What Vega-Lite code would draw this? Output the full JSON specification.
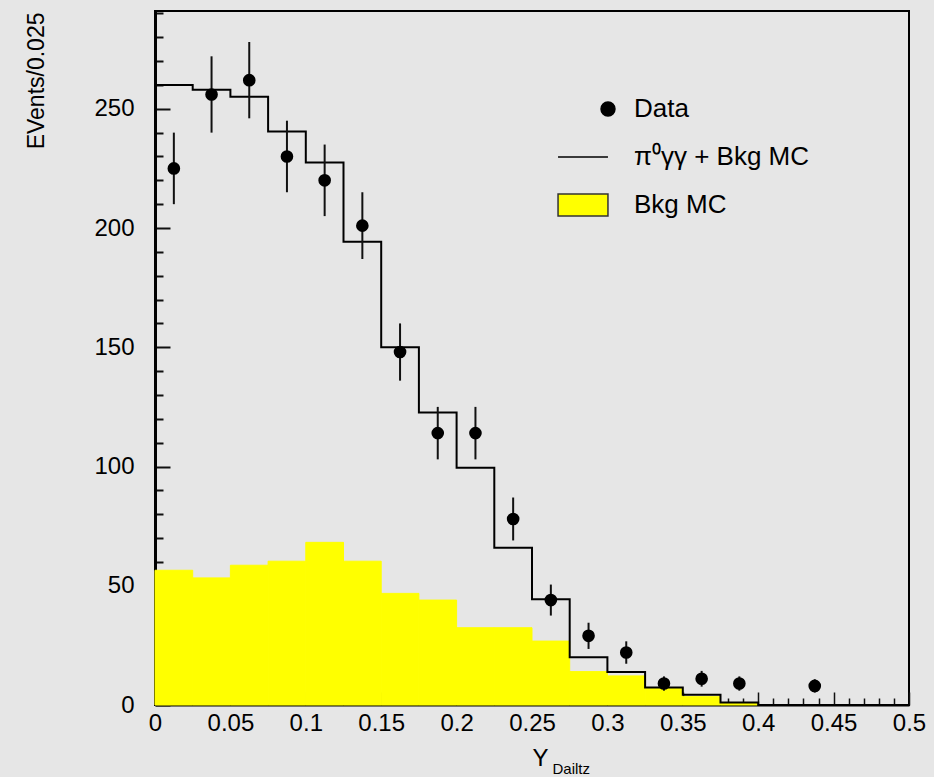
{
  "$schema": "https://vega.github.io/schema/vega-lite/v6.json",
  "autosize": {"type": "none"},
  "width": 754,
  "height": 694,
  "padding": {"left": 155, "top": 11, "right": 25, "bottom": 72},
  "background": "#e6e6e6",
  "config": {
    "view": {"stroke": "#000000", "strokeWidth": 2, "fill": "#e6e6e6"},
    "font": "Liberation Sans",
    "axis": {
      "zindex": 1, "grid": false,
      "labelFont": "Liberation Sans", "titleFont": "Liberation Sans",
      "labelColor": "#000000", "titleColor": "#000000",
      "domainColor": "#000000", "tickColor": "#111111",
      "labelOverlap": false, "labelBound": false, "labelFlush": false,
      "titleFontWeight": "normal"
    }
  },
  "datasets": {
    "hist": [
      {"x0": 0.0, "x1": 0.025, "xc": 0.0125, "total": 260, "bkg": 56.5, "data": 225, "lo": 210, "hi": 240},
      {"x0": 0.025, "x1": 0.05, "xc": 0.0375, "total": 258, "bkg": 53.3, "data": 256, "lo": 240, "hi": 272},
      {"x0": 0.05, "x1": 0.075, "xc": 0.0625, "total": 255, "bkg": 58.6, "data": 262, "lo": 246, "hi": 278},
      {"x0": 0.075, "x1": 0.1, "xc": 0.0875, "total": 240.5, "bkg": 60.3, "data": 230, "lo": 215, "hi": 245},
      {"x0": 0.1, "x1": 0.125, "xc": 0.1125, "total": 227.5, "bkg": 68.2, "data": 220, "lo": 205, "hi": 235},
      {"x0": 0.125, "x1": 0.15, "xc": 0.1375, "total": 194.2, "bkg": 60.3, "data": 201, "lo": 187, "hi": 215},
      {"x0": 0.15, "x1": 0.175, "xc": 0.1625, "total": 150, "bkg": 46.8, "data": 148, "lo": 136, "hi": 160},
      {"x0": 0.175, "x1": 0.2, "xc": 0.1875, "total": 122.7, "bkg": 44, "data": 114, "lo": 103, "hi": 125},
      {"x0": 0.2, "x1": 0.225, "xc": 0.2125, "total": 99.5, "bkg": 32.4, "data": 114, "lo": 103, "hi": 125},
      {"x0": 0.225, "x1": 0.25, "xc": 0.2375, "total": 65.9, "bkg": 32.4, "data": 78, "lo": 69, "hi": 87},
      {"x0": 0.25, "x1": 0.275, "xc": 0.2625, "total": 44.3, "bkg": 26.8, "data": 44, "lo": 37.5, "hi": 50.5},
      {"x0": 0.275, "x1": 0.3, "xc": 0.2875, "total": 20, "bkg": 14, "data": 29, "lo": 23.5, "hi": 34.5},
      {"x0": 0.3, "x1": 0.325, "xc": 0.3125, "total": 13.8, "bkg": 12.2, "data": 22, "lo": 17.3, "hi": 26.7},
      {"x0": 0.325, "x1": 0.35, "xc": 0.3375, "total": 7.3, "bkg": 7, "data": 9, "lo": 6, "hi": 12},
      {"x0": 0.35, "x1": 0.375, "xc": 0.3625, "total": 4.3, "bkg": 3.5, "data": 11, "lo": 7.7, "hi": 14.3},
      {"x0": 0.375, "x1": 0.4, "xc": 0.3875, "total": 1, "bkg": 0.8, "data": 9, "lo": 6, "hi": 12},
      {"x0": 0.4, "x1": 0.425, "xc": 0.4125, "total": 0, "bkg": 0, "data": null, "lo": null, "hi": null},
      {"x0": 0.425, "x1": 0.45, "xc": 0.4375, "total": 0, "bkg": 0, "data": 8, "lo": 5.2, "hi": 10.8},
      {"x0": 0.45, "x1": 0.475, "xc": 0.4625, "total": 0, "bkg": 0, "data": null, "lo": null, "hi": null},
      {"x0": 0.475, "x1": 0.5, "xc": 0.4875, "total": 0, "bkg": 0, "data": null, "lo": null, "hi": null},
      {"x0": 0.5, "x1": null, "xc": null, "total": 0, "bkg": null, "data": null, "lo": null, "hi": null}
    ]
  },
  "layer": [
    {
      "data": {"name": "hist"},
      "transform": [{"filter": "datum.x1 != null"}],
      "mark": {"type": "rect", "fill": "#ffff00", "stroke": "#ffff00", "strokeWidth": 1},
      "encoding": {
        "x": {
          "field": "x0", "type": "quantitative",
          "scale": {"domain": [0, 0.5], "nice": false, "zero": false},
          "axis": {
            "orient": "bottom",
            "values": [0,0.01,0.02,0.03,0.04,0.05,0.06,0.07,0.08,0.09,0.1,0.11,0.12,0.13,0.14,0.15,0.16,0.17,0.18,0.19,0.2,0.21,0.22,0.23,0.24,0.25,0.26,0.27,0.28,0.29,0.3,0.31,0.32,0.33,0.34,0.35,0.36,0.37,0.38,0.39,0.4,0.41,0.42,0.43,0.44,0.45,0.46,0.47,0.48,0.49,0.5],
            "labelExpr": "abs(datum.value*20-round(datum.value*20))<0.001 ? ''+round(datum.value*100)/100 : ''",
            "tickSize": {"condition": {"test": "abs(datum.value*20-round(datum.value*20))<0.001", "value": -13}, "value": -7},
            "tickWidth": 1.5,
            "domainWidth": 2,
            "labelFontSize": 24,
            "labelPadding": 19,
            "title": "Y",
            "titleFontSize": 24,
            "titleAngle": 0,
            "titleAlign": "left",
            "titleBaseline": "alphabetic",
            "titleX": 377,
            "titleY": 60
          }
        },
        "x2": {"field": "x1"},
        "y": {
          "field": "bkg", "type": "quantitative",
          "scale": {"domain": [0, 291], "nice": false, "zero": true},
          "axis": {
            "values": [0,10,20,30,40,50,60,70,80,90,100,110,120,130,140,150,160,170,180,190,200,210,220,230,240,250,260,270,280,290],
            "labelExpr": "datum.value % 50 === 0 ? datum.label : ''",
            "tickSize": {"condition": {"test": "datum.value % 50 === 0", "value": -15}, "value": -8},
            "tickWidth": 2,
            "domainWidth": 3,
            "labelFontSize": 24,
            "labelPadding": 36,
            "title": "EVents/0.025",
            "titleFontSize": 23,
            "titleAngle": -90,
            "titleAlign": "right",
            "titleBaseline": "alphabetic",
            "titleX": -112,
            "titleY": 1
          }
        },
        "y2": {"datum": 0}
      }
    },
    {
      "data": {"name": "hist"},
      "mark": {"type": "line", "interpolate": "step-after", "color": "#000000", "strokeWidth": 2},
      "encoding": {
        "x": {
          "field": "x0", "type": "quantitative",
          "axis": {
            "orient": "bottom",
            "domain": false, "ticks": false, "labels": false,
            "title": "Dailtz",
            "titleFontSize": 15,
            "titleAngle": 0,
            "titleAlign": "left",
            "titleBaseline": "alphabetic",
            "titleX": 397,
            "titleY": 68
          }
        },
        "y": {
          "field": "total", "type": "quantitative",
          "axis": {
            "values": [0,10,20,30,40,50,60,70,80,90,100,110,120,130,140,150,160,170,180,190,200,210,220,230,240,250,260,270,280,290],
            "labelExpr": "datum.value % 50 === 0 ? datum.label : ''",
            "tickSize": {"condition": {"test": "datum.value % 50 === 0", "value": -15}, "value": -8},
            "tickWidth": 2,
            "domainWidth": 3,
            "labelFontSize": 24,
            "labelPadding": 36,
            "title": "EVents/0.025",
            "titleFontSize": 23,
            "titleAngle": -90,
            "titleAlign": "right",
            "titleBaseline": "alphabetic",
            "titleX": -112,
            "titleY": 1
          }
        }
      }
    },
    {
      "data": {"name": "hist"},
      "transform": [{"filter": "datum.data != null"}],
      "mark": {"type": "rule", "color": "#111111", "strokeWidth": 2},
      "encoding": {
        "x": {"field": "xc", "type": "quantitative", "axis": null},
        "y": {
          "field": "lo", "type": "quantitative",
          "axis": {
            "values": [0,10,20,30,40,50,60,70,80,90,100,110,120,130,140,150,160,170,180,190,200,210,220,230,240,250,260,270,280,290],
            "labelExpr": "datum.value % 50 === 0 ? datum.label : ''",
            "tickSize": {"condition": {"test": "datum.value % 50 === 0", "value": -15}, "value": -8},
            "tickWidth": 2,
            "domainWidth": 3,
            "labelFontSize": 24,
            "labelPadding": 36,
            "title": "EVents/0.025",
            "titleFontSize": 23,
            "titleAngle": -90,
            "titleAlign": "right",
            "titleBaseline": "alphabetic",
            "titleX": -112,
            "titleY": 1
          }
        },
        "y2": {"field": "hi"}
      }
    },
    {
      "data": {"name": "hist"},
      "transform": [{"filter": "datum.data != null"}],
      "mark": {"type": "circle", "color": "#000000", "size": 160, "opacity": 1},
      "encoding": {
        "x": {"field": "xc", "type": "quantitative", "axis": null},
        "y": {
          "field": "data", "type": "quantitative",
          "axis": {
            "values": [0,10,20,30,40,50,60,70,80,90,100,110,120,130,140,150,160,170,180,190,200,210,220,230,240,250,260,270,280,290],
            "labelExpr": "datum.value % 50 === 0 ? datum.label : ''",
            "tickSize": {"condition": {"test": "datum.value % 50 === 0", "value": -15}, "value": -8},
            "tickWidth": 2,
            "domainWidth": 3,
            "labelFontSize": 24,
            "labelPadding": 36,
            "title": "EVents/0.025",
            "titleFontSize": 23,
            "titleAngle": -90,
            "titleAlign": "right",
            "titleBaseline": "alphabetic",
            "titleX": -112,
            "titleY": 1
          }
        }
      }
    },
    {
      "data": {"values": []},
      "mark": {"type": "point", "opacity": 1},
      "encoding": {
        "shape": {
          "field": "series", "type": "nominal",
          "scale": {
            "domain": ["Data", "π⁰γγ + Bkg MC", "Bkg MC"],
            "range": [
              "M1.3317,0C1.3317,0.1602,1.2019,0.29,1.0417,0.29C0.8815,0.29,0.7517,0.1602,0.7517,0C0.7517,-0.1602,0.8815,-0.29,1.0417,-0.29C1.2019,-0.29,1.3317,-0.1602,1.3317,0Z",
              "M-1.04,0H1.04",
              "M-1.04,-0.46H1.04V0.46H-1.04Z"
            ]
          },
          "legend": {"orient": "none", "legendX": 403, "legendY": 73, "title": null, "padding": 0, "rowPadding": 10, "symbolSize": 2304, "symbolStrokeWidth": 1.5, "symbolOpacity": 1, "labelFont": "Liberation Sans", "labelFontSize": 26, "labelColor": "#000000", "labelOffset": 26, "labelLimit": 500}
        },
        "fill": {
          "field": "series", "type": "nominal",
          "scale": {"domain": ["Data", "π⁰γγ + Bkg MC", "Bkg MC"], "range": ["#000000", "transparent", "#ffff00"]},
          "legend": {"orient": "none", "legendX": 403, "legendY": 73, "title": null, "padding": 0, "rowPadding": 10, "symbolSize": 2304, "symbolStrokeWidth": 1.5, "symbolOpacity": 1, "labelFont": "Liberation Sans", "labelFontSize": 26, "labelColor": "#000000", "labelOffset": 26, "labelLimit": 500}
        },
        "stroke": {
          "field": "series", "type": "nominal",
          "scale": {"domain": ["Data", "π⁰γγ + Bkg MC", "Bkg MC"], "range": ["#000000", "#000000", "#333333"]},
          "legend": {"orient": "none", "legendX": 403, "legendY": 73, "title": null, "padding": 0, "rowPadding": 10, "symbolSize": 2304, "symbolStrokeWidth": 1.5, "symbolOpacity": 1, "labelFont": "Liberation Sans", "labelFontSize": 26, "labelColor": "#000000", "labelOffset": 26, "labelLimit": 500}
        }
      }
    }
  ],
  "resolve": {"axis": {"x": "independent"}}
}
